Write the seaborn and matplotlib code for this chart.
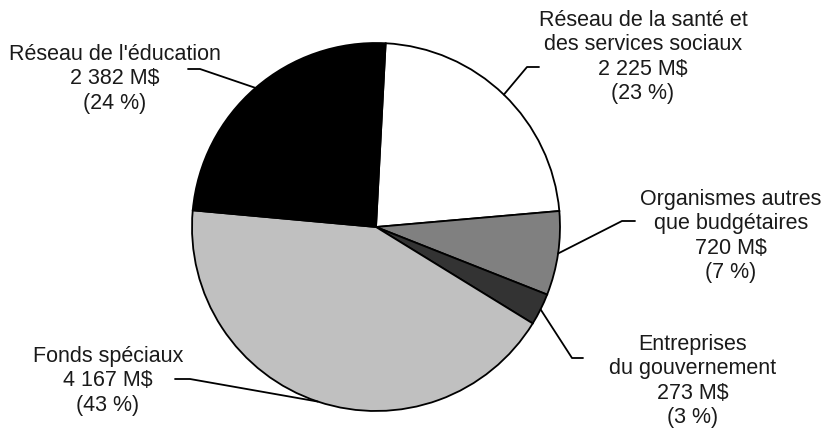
import numpy as np
import matplotlib
matplotlib.use("Agg")
import matplotlib.pyplot as plt
import seaborn as sns

# data (M$), clockwise from the top
categories = ["Réseau de la santé et\ndes services sociaux", "Organismes autres\nque budgétaires",
              "Entreprises\ndu gouvernement", "Fonds spéciaux", "Réseau de l'éducation"]
amounts = [2225, 720, 273, 4167, 2382]
pct_labels = ["23 %", "7 %", "3 %", "43 %", "24 %"]
colors = ["#ffffff", "#808080", "#333333", "#c0c0c0", "#000000"]

sns.set_theme(style="white")
plt.rcParams["font.family"] = ["Liberation Sans", "DejaVu Sans"]

W, H = 823, 428
CX, CY, R = 376, 227, 184

fig = plt.figure(figsize=(W / 100, H / 100), dpi=100)
ax = fig.add_axes([(CX - R) / W, (H - CY - R) / H, 2 * R / W, 2 * R / H])

wedges, _ = ax.pie(amounts, colors=colors, startangle=87, counterclock=False,
                   radius=1, wedgeprops=dict(edgecolor="black", linewidth=1.3))
ax.set_xlim(-1, 1)
ax.set_ylim(-1, 1)
ax.axis("off")


def px(x, y):
    # pixel position -> data coords of the pie axes
    return (x - CX) / R, (CY - y) / R


# label layout in pixels: text center, elbow, line end
layout = [
    ((643, 57), (527, 67), (539, 67)),
    ((731, 236), (622, 221), (635, 221)),
    ((693, 381), (572, 358), (583, 358)),
    ((108, 381), (190, 379), (175, 379)),
    ((115, 79), (200, 69), (188, 69)),
]

for w, cat, amt, pct, (tpos, elbow, end) in zip(wedges, categories, amounts, pct_labels, layout):
    mid = np.deg2rad((w.theta1 + w.theta2) / 2)
    ax_x, ax_y = np.cos(mid), np.sin(mid)
    ex, ey = px(*elbow)
    nx, ny = px(*end)
    ax.plot([ax_x, ex, nx], [ax_y, ey, ny], color="black", lw=1.3, clip_on=False)
    amt_txt = f"{amt:,}".replace(",", " ") + " M$"
    tx, ty = px(*tpos)
    ax.text(tx, ty, f"{cat}\n{amt_txt}\n({pct})", ha="center", va="center",
            fontsize=15.5, linespacing=1.2, color="#1a1a1a", clip_on=False)

fig.savefig("out.png", dpi=100)
